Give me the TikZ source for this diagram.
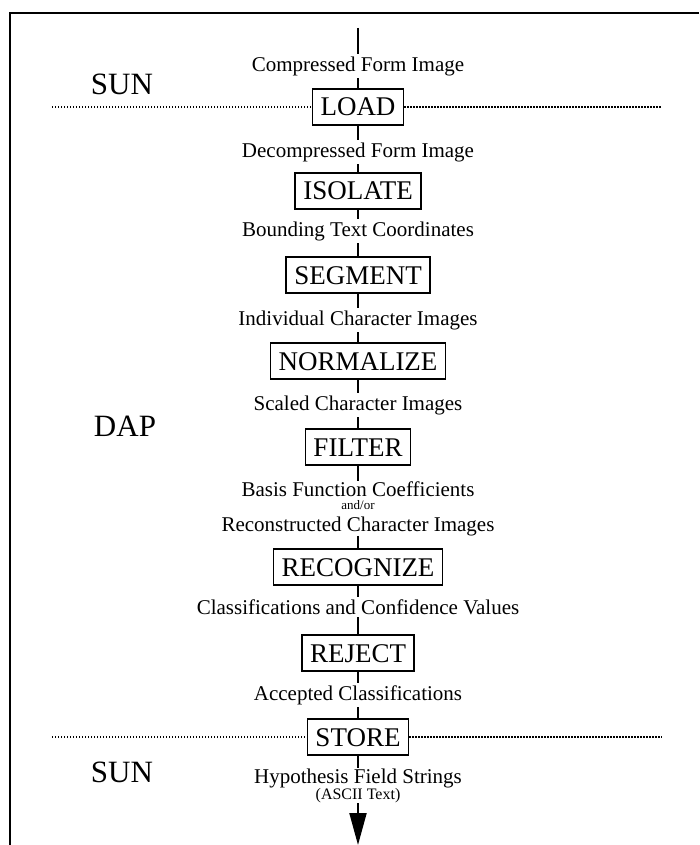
\documentclass[tikz,border=0pt]{standalone}
\usepackage{fontspec}
\setmainfont{Liberation Serif}
\usetikzlibrary{positioning, arrows.meta}

\tikzset{
  stage/.style={draw, line width=1.8pt, font=\fontsize{27}{30}\selectfont,
    inner xsep=8pt, inner ysep=9pt, text height=18pt, text depth=0pt},
  datalabel/.style={font=\fontsize{21}{24}\selectfont, inner sep=2.5pt},
  smalllabel/.style={font=\fontsize{13}{14}\selectfont, inner sep=0pt},
  sitename/.style={font=\fontsize{31}{34}\selectfont},
  flow/.style={line width=2pt},
  boundary/.style={line width=1.3pt, dash pattern=on 1.3pt off 1.7pt}
}

\begin{document}
\begin{tikzpicture}[x=1pt, y=-1pt]
\useasboundingbox (0,0) rectangle (699,845);
% --- frame ---
\draw[line width=2.2pt] (10,845) -- (10,13) -- (699,13);

% --- machines ---
\node[sitename] (suntop) at (122,84) {SUN};
\node[sitename] (dap) at (125,426) {DAP};
\node[sitename] (sunbot) at (122,772) {SUN};

% --- processing stages ---
\node[stage] (load) at (358,107) {LOAD};
\node[stage] (isolate) at (358,191) {ISOLATE};
\node[stage] (segment) at (358,275) {SEGMENT};
\node[stage] (normalize) at (358,361) {NORMALIZE};
\node[stage] (filter) at (358,447) {FILTER};
\node[stage] (recognize) at (358,567) {RECOGNIZE};
\node[stage] (reject) at (358,653) {REJECT};
\node[stage] (store) at (358,737) {STORE};

% --- data between stages ---
\coordinate (input) at (358,28);
\node[datalabel] (compressed) at (358,66) {Compressed Form Image};
\node[datalabel] (decompressed) at (358,152) {Decompressed Form Image};
\node[datalabel] (bounding) at (358,231) {Bounding Text Coordinates};
\node[datalabel] (individual) at (358,320) {Individual Character Images};
\node[datalabel] (scaled) at (358,405) {Scaled Character Images};
\node[datalabel, inner sep=0pt] (basis) at (358,489) {Basis Function Coefficients};
\node[smalllabel] (andor) at (358,505) {and/or};
\node[datalabel, inner sep=0pt] (recon) at (358,526) {Reconstructed Character Images};
\node[datalabel] (classif) at (358,607) {Classifications and Confidence Values};
\node[datalabel] (accepted) at (358,695) {Accepted Classifications};
\node[datalabel, inner sep=0pt] (hypo) at (358,778) {Hypothesis Field Strings};
\node[smalllabel, font=\fontsize{16}{17}\selectfont] (ascii) at (358,796) {(ASCII Text)};
\coordinate (output) at (358,845);

% --- flow line ---
\draw[flow] (input) -- (compressed);
\draw[flow] (compressed) -- (load);
\draw[flow] (load) -- (decompressed);
\draw[flow] (decompressed) -- (isolate);
\draw[flow] (isolate) -- (bounding);
\draw[flow] (bounding) -- (segment);
\draw[flow] (segment) -- (individual);
\draw[flow] (individual) -- (normalize);
\draw[flow] (normalize) -- (scaled);
\draw[flow] (scaled) -- (filter);
\draw[flow] (filter) -- (basis);
\draw[flow] (recon) -- (recognize);
\draw[flow] (recognize) -- (classif);
\draw[flow] (classif) -- (reject);
\draw[flow] (reject) -- (accepted);
\draw[flow] (accepted) -- (store);
\draw[flow] (store) -- (hypo);
\draw[flow, -{Triangle[length=32pt, width=17pt]}] (ascii) -- (output);

% --- SUN / DAP boundaries ---
\coordinate (topleft) at (52,107);
\coordinate (topright) at (662,107);
\coordinate (botleft) at (52,737);
\coordinate (botright) at (662,737);
\draw[boundary] (topleft) -- (load);
\draw[boundary] (load) -- (topright);
\draw[boundary] (botleft) -- (store);
\draw[boundary] (store) -- (botright);
\end{tikzpicture}
\end{document}
